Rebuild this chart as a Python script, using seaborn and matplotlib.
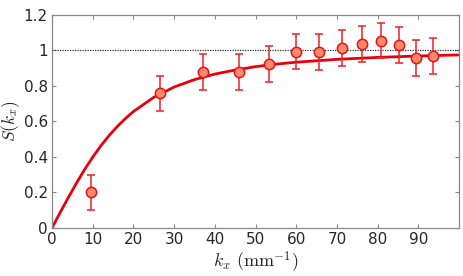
import matplotlib
matplotlib.use("Agg")
import matplotlib.pyplot as plt
import seaborn as sns
import pandas as pd

# measured points
kx = [9.6, 26.5, 37.2, 46.0, 53.3, 60.0, 65.6, 71.3, 76.2, 80.8, 85.3, 89.4, 93.6]
S = [0.20, 0.758, 0.878, 0.880, 0.925, 0.994, 0.991, 1.015, 1.036, 1.056, 1.030, 0.957, 0.970]
S_err = [0.10, 0.10, 0.10, 0.10, 0.10, 0.10, 0.10, 0.10, 0.10, 0.10, 0.10, 0.10, 0.10]

# fit curve
fit_k = [0, 2, 4, 6, 8, 10, 12, 14, 16, 18, 20, 25, 30, 35, 40, 45, 50, 55, 60, 70, 80, 90, 100]
fit_S = [0, 0.087, 0.171, 0.252, 0.329, 0.399, 0.463, 0.520, 0.571, 0.616, 0.656, 0.736,
         0.794, 0.836, 0.867, 0.890, 0.909, 0.923, 0.934, 0.950, 0.961, 0.969, 0.975]

xticks = [0, 10, 20, 30, 40, 50, 60, 70, 80, 90]
yticks = [0, 0.2, 0.4, 0.6, 0.8, 1.0, 1.2]
ylabels = ["0", "0.2", "0.4", "0.6", "0.8", "1", "1.2"]

sns.set_style("ticks")
plt.rcParams["font.family"] = ["DejaVu Sans"]
plt.rcParams["mathtext.fontset"] = "cm"

fig = plt.figure(figsize=(4.63, 2.76), dpi=100)
ax = fig.add_axes([0.1123, 0.174, 0.8791, 0.7717])

ax.axhline(1.0, color="#333333", lw=0.9, ls=(0, (1, 1)), zorder=1)

df_fit = pd.DataFrame({"k": fit_k, "S": fit_S})
sns.lineplot(data=df_fit, x="k", y="S", ax=ax, color="#e8000b", lw=2, zorder=2)

ax.errorbar(kx, S, yerr=S_err, fmt="none", ecolor="#ee2222", elinewidth=1.3,
            capsize=3, capthick=1.3, alpha=0.85, zorder=3)
df = pd.DataFrame({"k": kx, "S": S})
sns.scatterplot(data=df, x="k", y="S", ax=ax, s=55, color="#ff8a6a",
                edgecolor="#e8101b", linewidth=1.1, zorder=4)

ax.set_xlim(0, 100)
ax.set_ylim(0, 1.2)
ax.set_xticks(xticks)
ax.set_yticks(yticks)
ax.set_yticklabels(ylabels)
ax.tick_params(direction="in", top=True, right=True, length=3, width=0.8,
               labelsize=11, colors="#888888", labelcolor="#262626", pad=3)
for sp in ax.spines.values():
    sp.set_color("#8a8a8a")
    sp.set_linewidth(0.9)

ax.set_xlabel(r"$k_x\ (\mathrm{mm}^{-1})$", fontsize=13, labelpad=2)
ax.set_ylabel(r"$S(k_x)$", fontsize=12.5, labelpad=1)

fig.savefig("out.png", dpi=100)
